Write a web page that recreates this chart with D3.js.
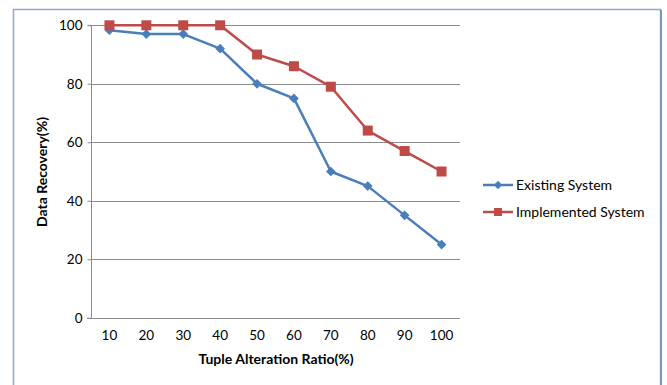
<!DOCTYPE html>
<html><head><meta charset="utf-8">
<script src="https://cdn.jsdelivr.net/npm/d3@7"></script>
<style>
html,body{margin:0;padding:0;background:#fff;}
text{font-family:"Lato","Open Sans",sans-serif;fill:#000;}
</style></head>
<body>
<svg id="chart" width="667" height="385"></svg>
<script>
const categories = [10,20,30,40,50,60,70,80,90,100];
const existing = [98.3,97,97,92,80,75,50,45,35,25];
const implemented = [100,100,100,100,90,86,79,64,57,50];
const yTicks = [0,20,40,60,80,100];
const seriesNames = ["Existing System","Implemented System"];
const colors = ["#4a7ebb","#be4b48"];

const svg = d3.select("#chart");
const m = {left:91, right:460, top:25.3, bottom:317.7};

// outer frame
svg.append("rect").attr("x",13.5).attr("y",9.5).attr("width",647).attr("height",390)
  .attr("fill","none").attr("stroke","#8eaad0").attr("stroke-width",1.5);
svg.append("line").attr("x1",661).attr("x2",661).attr("y1",10).attr("y2",385)
  .attr("stroke","#7d98c0").attr("stroke-width",2);

const x = d3.scaleBand().domain(categories).range([m.left,m.right]);
const y = d3.scaleLinear().domain([0,100]).range([m.bottom,m.top]);

// gridlines
svg.append("g").selectAll("line").data(yTicks.filter(d=>d>0)).join("line")
  .attr("x1",m.left).attr("x2",m.right)
  .attr("y1",d=>Math.round(y(d))+0.5).attr("y2",d=>Math.round(y(d))+0.5)
  .attr("stroke","#8c8c8c").attr("stroke-width",1);

// y axis
const yAxis = d3.axisLeft(y).tickValues(yTicks).tickSize(4).tickPadding(5);
const gy = svg.append("g").attr("transform",`translate(${m.left+0.5},0)`).call(yAxis);
gy.select(".domain").attr("stroke","#8c8c8c").attr("d",`M-4,${m.top}H0V${m.bottom}`);
gy.selectAll(".tick line").attr("stroke","#8c8c8c");
gy.selectAll(".tick text").style("font-size","13.5px").style("font-family","Lato, sans-serif");

// x axis
const xAxis = d3.axisBottom(x).tickSize(0).tickPadding(12);
const gx = svg.append("g").attr("transform",`translate(0,${Math.round(m.bottom)+0.5})`).call(xAxis);
gx.select(".domain").attr("stroke","#8c8c8c").attr("d",`M${m.left-4},0H${m.right}`);
gx.selectAll(".tick text").style("font-size","13.5px").style("font-family","Lato, sans-serif");

// axis titles
svg.append("text").attr("transform","translate(47,172) rotate(-90)")
  .attr("text-anchor","middle").style("font-weight","bold").style("font-size","14px")
  .text("Data Recovery(%)");
svg.append("text").attr("x",276).attr("y",364)
  .attr("text-anchor","middle").style("font-weight","bold").style("font-size","14px")
  .text("Tuple Alteration Ratio(%)");

const cx = d => x(d)+x.bandwidth()/2;
const data = [existing, implemented];
const line = d3.line().x((d,i)=>cx(categories[i])).y(d=>y(d));
const diamond = d3.symbol().type(d3.symbolDiamond2).size(60);

[0,1].forEach(s=>{
  svg.append("path").datum(data[s]).attr("d",line).attr("fill","none")
    .attr("stroke",colors[s]).attr("stroke-width",2.5).attr("stroke-linejoin","round");
});
// markers
svg.append("g").selectAll("path").data(existing).join("path")
  .attr("d",diamond).attr("transform",(d,i)=>`translate(${cx(categories[i])},${y(d)})`)
  .attr("fill",colors[0]);
svg.append("g").selectAll("rect").data(implemented).join("rect")
  .attr("x",(d,i)=>cx(categories[i])-5).attr("y",d=>y(d)-5)
  .attr("width",10).attr("height",10).attr("fill",colors[1]);

// legend
const leg = svg.append("g");
seriesNames.forEach((name,s)=>{
  const ly = 185 + s*27;
  leg.append("line").attr("x1",483).attr("x2",513).attr("y1",ly).attr("y2",ly)
    .attr("stroke",colors[s]).attr("stroke-width",2.5);
  if(s===0){
    leg.append("path").attr("d",d3.symbol().type(d3.symbolDiamond2).size(45)())
      .attr("transform",`translate(498,${ly})`).attr("fill",colors[0]);
  } else {
    leg.append("rect").attr("x",494).attr("y",ly-4).attr("width",8).attr("height",8).attr("fill",colors[1]);
  }
  leg.append("text").attr("x",516).attr("y",ly+5).style("font-size","14px").text(name);
});
</script>
</body></html>
